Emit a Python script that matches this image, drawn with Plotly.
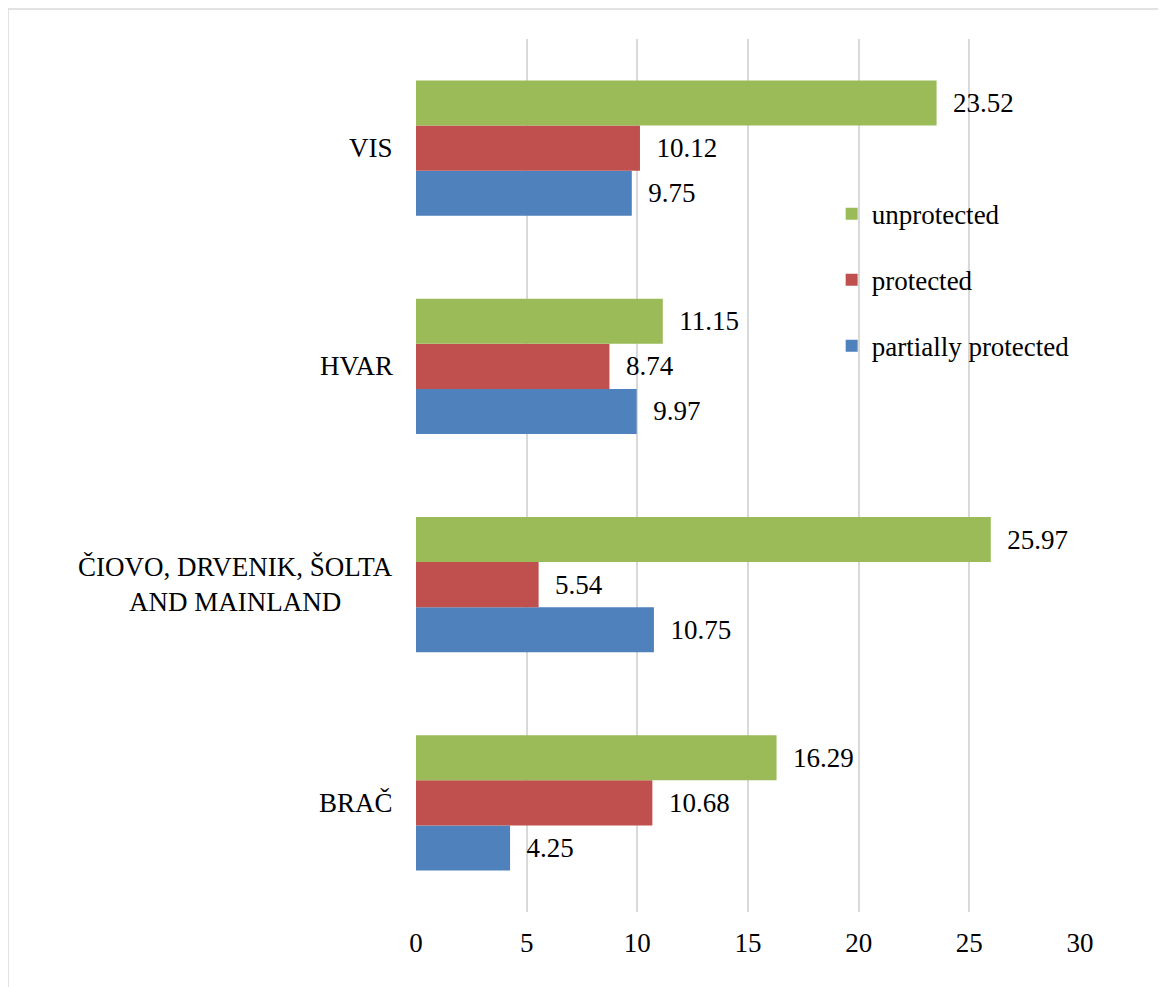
import plotly.graph_objects as go

categories = ["BRAČ", "ČIOVO, DRVENIK, ŠOLTA<br>AND MAINLAND", "HVAR", "VIS"]
partially_protected = [4.25, 10.75, 9.97, 9.75]
protected = [10.68, 5.54, 8.74, 10.12]
unprotected = [16.29, 25.97, 11.15, 23.52]
x_ticks = [0, 5, 10, 15, 20, 25, 30]

FONT = "Liberation Serif"
FS = 27

series = [
    ("partially protected", partially_protected, "#4F81BD", 3),
    ("protected", protected, "#C0504D", 2),
    ("unprotected", unprotected, "#9BBB59", 1),
]

fig = go.Figure()
for name, vals, color, rank in series:
    fig.add_trace(go.Bar(
        y=categories, x=vals, name=name, orientation="h",
        marker=dict(color=color, line=dict(width=0)),
        text=[f"{v:.2f}" for v in vals], texttemplate="  %{text}",
        textposition="outside", cliponaxis=False,
        textfont=dict(family=FONT, size=FS, color="black"),
        legendgroup=name, legendrank=rank,
    ))

for c in categories:
    fig.add_annotation(
        x=0, xref="paper", y=c, yref="y", xanchor="right", yanchor="middle",
        xshift=-21, text=c, showarrow=False, align="center",
        font=dict(family=FONT, size=FS, color="black"),
    )

fig.add_shape(type="rect", xref="paper", yref="paper",
              x0=-0.6145, x1=1.2, y0=-0.12, y1=1.0344,
              line=dict(color="#d9d9d9", width=1.5), layer="below")

fig.update_layout(
    width=1166, height=987,
    margin=dict(l=408, r=94, t=31, b=83),
    paper_bgcolor="white", plot_bgcolor="white",
    barmode="group", bargap=0.38, bargroupgap=0,
    font=dict(family=FONT, size=FS, color="black"),
    legend=dict(
        x=0.626, y=0.8275, xanchor="left", yanchor="top",
        traceorder="grouped", tracegroupgap=28,
        font=dict(family=FONT, size=FS, color="black"),
        bgcolor="rgba(0,0,0,0)", itemwidth=30,
    ),
    xaxis=dict(
        range=[0, 30], tickvals=x_ticks, showgrid=True,
        gridcolor="#d9d9d9", gridwidth=1.5, zeroline=False,
        ticks="outside", ticklen=7, tickcolor="rgba(0,0,0,0)",
        tickfont=dict(family=FONT, size=FS, color="black"),
        showline=False,
    ),
    yaxis=dict(
        showticklabels=False, showgrid=False, zeroline=False,
        showline=False, ticks="",
    ),
)

fig.write_html("out.html")
